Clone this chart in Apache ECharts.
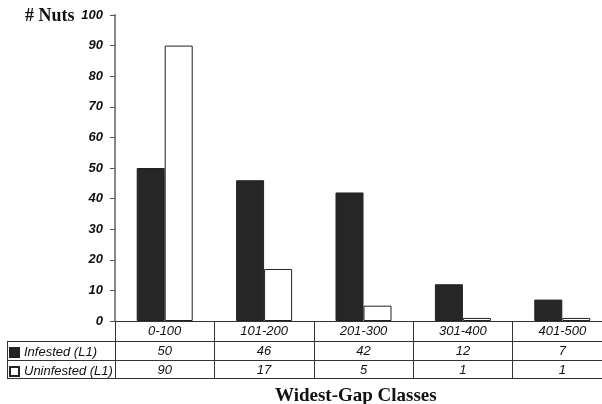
<!DOCTYPE html>
<html>
<head>
<meta charset="utf-8">
<script src="https://cdn.jsdelivr.net/npm/echarts@6/dist/echarts.min.js"></script>
<style>html,body{margin:0;padding:0;background:#fff}#c{width:602px;height:404px}</style>
</head>
<body>
<div id="c"></div>
<script>
var categories = ['0-100', '101-200', '201-300', '301-400', '401-500'];
var infested = [50, 46, 42, 12, 7];
var uninfested = [90, 17, 5, 1, 1];
var seriesNames = ['Infested (L1)', 'Uninfested (L1)'];
var yTicks = {min: 0, max: 100, interval: 10};

var chart = echarts.init(document.getElementById('c'));
var lineCol = '#333';
var sans = 'Liberation Sans';

function tableAxis(offset, values, tickLen, showLabel) {
  return {
    type: 'category', gridIndex: 0, position: 'bottom', offset: offset,
    data: categories,
    axisLine: {show: true, lineStyle: {color: lineCol, width: 1}},
    axisTick: {show: tickLen > 0, length: tickLen, inside: false, lineStyle: {color: lineCol, width: 1}},
    axisLabel: {
      show: showLabel, margin: 4, interval: 0,
      fontFamily: sans, fontStyle: 'italic', fontSize: 13, color: '#111',
      formatter: function (v, i) { return values ? String(values[i]) : v; }
    },
    splitLine: {show: false}
  };
}

chart.setOption({
  animation: false,
  grid: {left: 115, width: 497, top: 15, height: 306, containLabel: false, outerBoundsMode: 'none'},
  legend: {
    orient: 'vertical', left: 9, top: 346, padding: 0,
    itemWidth: 9, itemHeight: 9, itemGap: 6, textGap: 8,
    icon: 'rect',
    textStyle: {fontFamily: sans, fontStyle: 'italic', fontSize: 13, color: '#111'},
    data: seriesNames
  },
  xAxis: [
    tableAxis(0, null, 20, true),
    tableAxis(20, infested, 19, true),
    tableAxis(39, uninfested, 18, true),
    tableAxis(57, null, 0, false)
  ],
  yAxis: {
    type: 'value', min: yTicks.min, max: yTicks.max, interval: yTicks.interval,
    axisLine: {show: true, lineStyle: {color: '#888', width: 2}},
    axisTick: {show: true, length: 5, inside: false, lineStyle: {color: '#555', width: 1}},
    axisLabel: {margin: 12, fontFamily: sans, fontStyle: 'italic', fontWeight: 'bold', fontSize: 13, color: '#111'},
    splitLine: {show: false}
  },
  series: [
    {name: seriesNames[0], type: 'bar', xAxisIndex: 0, data: infested, barWidth: 28, barGap: '0%',
     itemStyle: {color: '#262626', borderColor: '#222', borderWidth: 1}},
    {name: seriesNames[1], type: 'bar', xAxisIndex: 0, data: uninfested, barWidth: 28, barGap: '0%',
     itemStyle: {color: '#ffffff', borderColor: '#222', borderWidth: 1}}
  ],
  graphic: [
    {type: 'text', left: 25, top: 7, style: {text: '# Nuts', font: 'bold 18px "Liberation Serif"', fill: '#111'}},
    {type: 'text', left: 275, top: 387, style: {text: 'Widest-Gap Classes', font: 'bold 19px "Liberation Serif"', fill: '#111'}},
    {type: 'line', shape: {x1: 7, y1: 341.5, x2: 115, y2: 341.5}, style: {stroke: lineCol, lineWidth: 1}},
    {type: 'line', shape: {x1: 7, y1: 360.5, x2: 115, y2: 360.5}, style: {stroke: lineCol, lineWidth: 1}},
    {type: 'line', shape: {x1: 7, y1: 378.5, x2: 115, y2: 378.5}, style: {stroke: lineCol, lineWidth: 1}},
    {type: 'line', shape: {x1: 7.5, y1: 341, x2: 7.5, y2: 379}, style: {stroke: lineCol, lineWidth: 1}}
  ]
});
</script>
</body>
</html>
